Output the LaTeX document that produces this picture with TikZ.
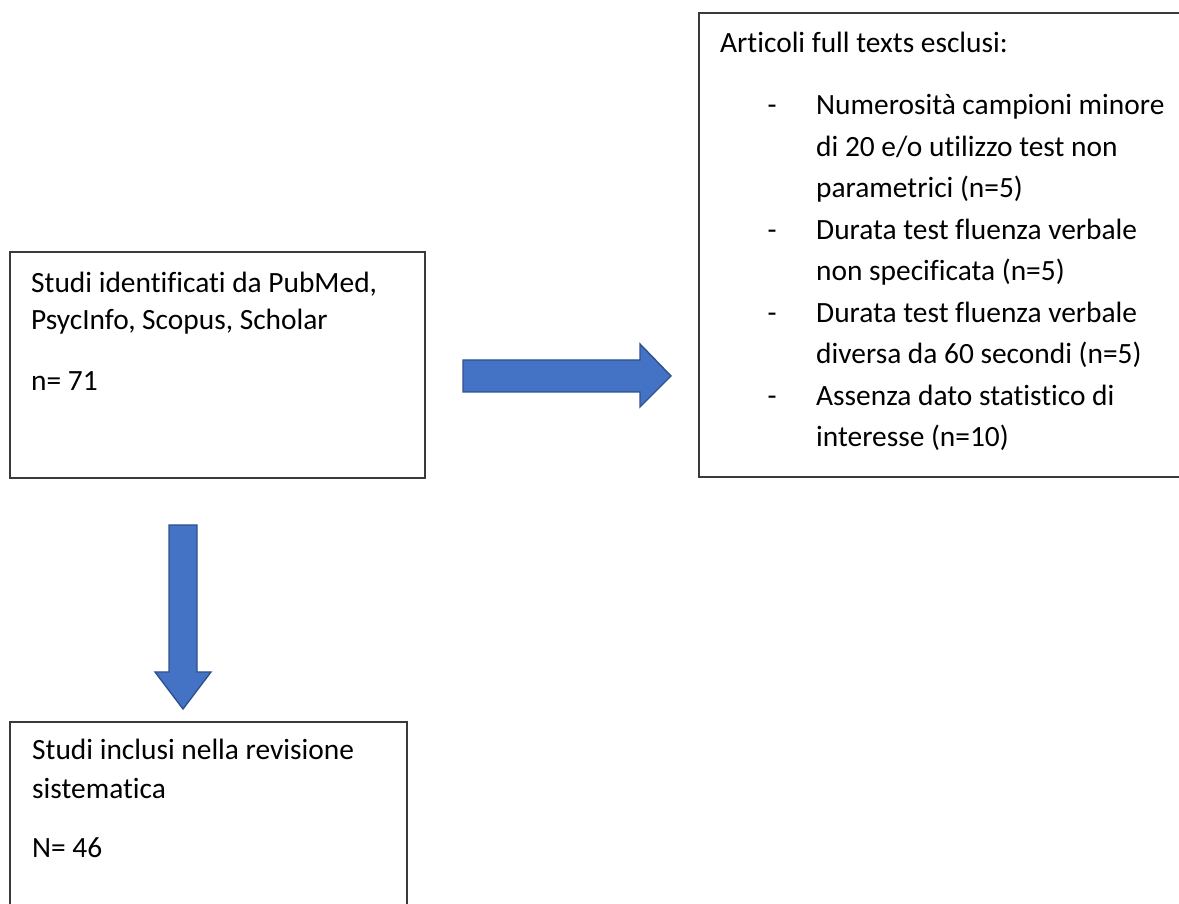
\documentclass[tikz,border=0pt]{standalone}
\usepackage{fontspec}
\setmainfont{Carlito}[Ligatures={NoCommon}]
\definecolor{arrowfill}{HTML}{4472C4}
\definecolor{arrowline}{HTML}{2F528F}
\definecolor{boxline}{HTML}{3A3A3A}
\begin{document}
\begin{tikzpicture}[x=1pt,y=1pt,
  boxstyle/.style={draw=boxline,line width=1.3pt,fill=none},
  txt/.style={inner sep=0pt,anchor=base west,font=\fontsize{29.4}{35}\selectfont},
  dashtxt/.style={inner sep=0pt,anchor=base,font=\fontsize{29.4}{35}\selectfont},
  blockarrow/.style={fill=arrowfill,draw=arrowline,line width=1.4pt,line join=miter}]
\useasboundingbox (0,0) rectangle (1179,904);
\clip (0,0) rectangle (1179,904);
% boxes
\draw[boxstyle] (10,426) rectangle (425,652);
\draw[boxstyle] (1190,427) -- (699,427) -- (699,891) -- (1190,891);
\draw[boxstyle] (407,-10) -- (407,182) -- (10,182) -- (10,-10);
% box 1 text
\node[txt] (a1) at (31,611) {Studi identificati da PubMed,};
\node[txt] (a2) at (31,574) {PsycInfo, Scopus, Scholar};
\node[txt] (a3) at (31,513) {n= 71};
% box 2 text
\node[txt] (b0) at (720,851) {Articoli full texts esclusi:};
\node[dashtxt] (d1) at (772,789) {-};
\node[txt] (b1) at (816,789) {Numerosità campioni minore};
\node[txt] (b2) at (816,747.5) {di 20 e/o utilizzo test non};
\node[txt] (b3) at (816,706) {parametrici (n=5)};
\node[dashtxt] (d2) at (772,664.5) {-};
\node[txt] (b4) at (816,664.5) {Durata test fluenza verbale};
\node[txt] (b5) at (816,623) {non specificata (n=5)};
\node[dashtxt] (d3) at (772,581.5) {-};
\node[txt] (b6) at (816,581.5) {Durata test fluenza verbale};
\node[txt] (b7) at (816,540) {diversa da 60 secondi (n=5)};
\node[dashtxt] (d4) at (772,498.5) {-};
\node[txt] (b8) at (816,498.5) {Assenza dato statistico di};
\node[txt] (b9) at (816,457) {interesse (n=10)};
% box 3 text
\node[txt] (c1) at (32,144) {Studi inclusi nella revisione};
\node[txt] (c2) at (32,105) {sistematica};
\node[txt] (c3) at (32,46) {N= 46};
% block arrows
\draw[blockarrow] (463,544) -- (640,544) -- (640,560) -- (671,528) -- (640,497) -- (640,512) -- (463,512) -- cycle;
\draw[blockarrow] (169,379) -- (197,379) -- (197,232) -- (211,232) -- (183,195) -- (155,232) -- (169,232) -- cycle;
\end{tikzpicture}
\end{document}
